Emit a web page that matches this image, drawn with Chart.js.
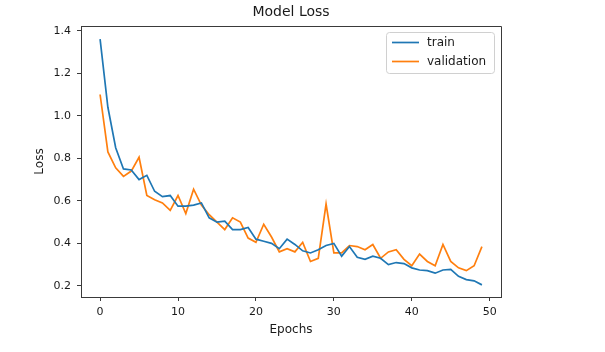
<!DOCTYPE html>
<html><head><meta charset="utf-8">
<script src="https://cdn.jsdelivr.net/npm/chart.js@4/dist/chart.umd.min.js"></script>
<style>html,body{margin:0;padding:0;background:#fff}#wrap{width:605px;height:352px}</style>
</head><body><div id="wrap"><canvas id="c" width="605" height="352"></canvas></div>
<script>
const epochs = [0,1,2,3,4,5,6,7,8,9,10,11,12,13,14,15,16,17,18,19,20,21,22,23,24,25,26,27,28,29,30,31,32,33,34,35,36,37,38,39,40,41,42,43,44,45,46,47,48,49];
const trainLoss = [1.36,1.04,0.85,0.75,0.745,0.70,0.72,0.645,0.62,0.625,0.575,0.575,0.58,0.59,0.52,0.50,0.505,0.465,0.465,0.475,0.42,0.41,0.40,0.375,0.42,0.395,0.365,0.355,0.37,0.39,0.40,0.34,0.385,0.335,0.325,0.34,0.33,0.30,0.31,0.305,0.285,0.275,0.272,0.26,0.275,0.278,0.245,0.23,0.224,0.205];
const valLoss = [1.10,0.83,0.755,0.715,0.74,0.805,0.625,0.605,0.59,0.555,0.625,0.54,0.655,0.58,0.535,0.50,0.465,0.52,0.50,0.425,0.405,0.49,0.43,0.36,0.375,0.36,0.405,0.315,0.33,0.585,0.355,0.355,0.39,0.385,0.37,0.395,0.33,0.36,0.37,0.325,0.295,0.35,0.315,0.295,0.395,0.315,0.285,0.272,0.295,0.385];
const seriesNames = ['train','validation'];
const xTicks = [0,10,20,30,40,50];
const yTicks = [0.2,0.4,0.6,0.8,1.0,1.2,1.4];

const FONT = 'DejaVu Sans';
const TXT = '#1a1a1a';
const SPINE = '#3a3a3a';

const framePlugin = {
  id: 'frame',
  afterDatasetsDraw(chart) {
    const {ctx, chartArea: a} = chart;
    ctx.save();
    ctx.strokeStyle = SPINE; ctx.lineWidth = 1;
    ctx.beginPath();
    ctx.moveTo(Math.round(a.left)+0.5, Math.round(a.top)+0.5);
    ctx.lineTo(Math.round(a.right)+0.5, Math.round(a.top)+0.5);
    ctx.lineTo(Math.round(a.right)+0.5, Math.round(a.bottom)+0.5);
    ctx.stroke();
    ctx.restore();
  }
};

const legendPlugin = {
  id: 'mplLegend',
  afterDatasetsDraw(chart) {
    const ctx = chart.ctx;
    const x = 386.5, y = 32.5, w = 108, h = 41, r = 3;
    ctx.save();
    ctx.beginPath();
    ctx.moveTo(x+r, y); ctx.lineTo(x+w-r, y); ctx.arcTo(x+w, y, x+w, y+r, r);
    ctx.lineTo(x+w, y+h-r); ctx.arcTo(x+w, y+h, x+w-r, y+h, r);
    ctx.lineTo(x+r, y+h); ctx.arcTo(x, y+h, x, y+h-r, r);
    ctx.lineTo(x, y+r); ctx.arcTo(x, y, x+r, y, r);
    ctx.closePath();
    ctx.fillStyle = 'rgba(255,255,255,0.8)'; ctx.fill();
    ctx.strokeStyle = '#d0d0d0'; ctx.lineWidth = 1; ctx.stroke();
    const rows = [42.5, 61.5];
    chart.data.datasets.forEach((ds, i) => {
      const ry = rows[i];
      ctx.strokeStyle = ds.borderColor; ctx.lineWidth = 1.7;
      ctx.beginPath(); ctx.moveTo(392, ry); ctx.lineTo(419, ry); ctx.stroke();
      ctx.fillStyle = TXT; ctx.font = '12px "' + FONT + '"';
      ctx.textBaseline = 'middle'; ctx.textAlign = 'left';
      ctx.fillText(ds.label, 427, ry);
    });
    ctx.restore();
  }
};

new Chart(document.getElementById('c'), {
  type: 'line',
  data: {
    labels: epochs,
    datasets: [
      {label: seriesNames[0], data: epochs.map((e,i)=>({x:e, y:trainLoss[i]})), borderColor: '#1f77b4', backgroundColor: '#1f77b4', borderWidth: 1.7, pointRadius: 0, tension: 0, fill: false},
      {label: seriesNames[1], data: epochs.map((e,i)=>({x:e, y:valLoss[i]})), borderColor: '#ff7f0e', backgroundColor: '#ff7f0e', borderWidth: 1.7, pointRadius: 0, tension: 0, fill: false}
    ]
  },
  plugins: [framePlugin, legendPlugin],
  options: {
    responsive: false,
    animation: false,
    devicePixelRatio: 1,
    layout: {padding: {left: 0, right: 104, top: 0, bottom: 0}},
    plugins: {
      legend: {display: false},
      tooltip: {enabled: false},
      title: {display: true, text: 'Model Loss', fullSize: false, color: TXT,
        font: {family: FONT, size: 14, weight: 'normal', lineHeight: 1.2},
        padding: {top: 4, bottom: 5.2}}
    },
    scales: {
      x: {
        type: 'linear', min: -2.45, max: 51.45,
        afterBuildTicks: s => { s.ticks = xTicks.map(v => ({value: v})); },
        afterFit: s => { s.height = 55; },
        grid: {drawOnChartArea: false, drawTicks: true, tickLength: 4, color: SPINE, lineWidth: 1},
        border: {display: true, color: SPINE, width: 1},
        ticks: {color: TXT, font: {family: FONT, size: 11}, padding: 5, maxRotation: 0, callback: v => String(v)},
        title: {display: true, text: 'Epochs', color: TXT, font: {family: FONT, size: 12}, padding: {top: 0, bottom: 15}}
      },
      y: {
        type: 'linear', min: 0.148, max: 1.422,
        afterBuildTicks: s => { s.ticks = yTicks.map(v => ({value: v})); },
        afterFit: s => { s.width = 81; },
        grid: {drawOnChartArea: false, drawTicks: true, tickLength: 4, color: SPINE, lineWidth: 1},
        border: {display: true, color: SPINE, width: 1},
        ticks: {color: TXT, font: {family: FONT, size: 11}, padding: 6, callback: v => Number(v).toFixed(1)},
        title: {display: true, text: 'Loss', color: TXT, font: {family: FONT, size: 12}, padding: {top: 33, bottom: 0}}
      }
    }
  }
});
</script>
</body></html>
